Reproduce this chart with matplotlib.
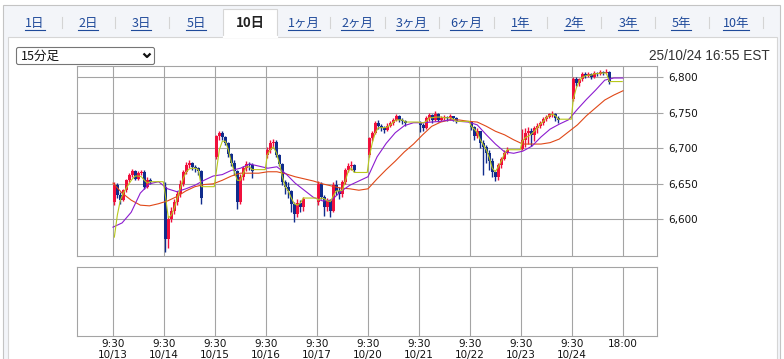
import numpy as np
import matplotlib
matplotlib.use('Agg')
import matplotlib.pyplot as plt
import matplotlib.patches as patches
import matplotlib.lines as lines

W, H = 784, 359

# ---- data -------------------------------------------------------------
days = ['10/13', '10/14', '10/15', '10/16', '10/17',
        '10/20', '10/21', '10/22', '10/23', '10/24']
tabs = ['1日', '2日', '3日', '5日', '10日', '1ヶ月', '2ヶ月',
        '3ヶ月', '6ヶ月', '1年', '2年', '3年', '5年', '10年']
yticks = [6600, 6650, 6700, 6750, 6800]

# 30分ごとのローソク足 (1日13本)
day_open = [6625, 6645, 6688, 6690, 6624, 6690, 6736, 6737, 6699, 6769]
closes = [
    [6649, 6634, 6627, 6641, 6655, 6662, 6668, 6657, 6665, 6667, 6646, 6656, 6653],
    [6572, 6600, 6612, 6624, 6635, 6650, 6667, 6677, 6679, 6674, 6672, 6668, 6630],
    [6717, 6722, 6716, 6708, 6692, 6680, 6668, 6625, 6660, 6672, 6678, 6676, 6668],
    [6698, 6707, 6709, 6690, 6678, 6652, 6645, 6640, 6621, 6608, 6623, 6617, 6628],
    [6650, 6632, 6617, 6626, 6612, 6648, 6640, 6636, 6653, 6669, 6675, 6677, 6670],
    [6714, 6722, 6736, 6731, 6729, 6726, 6732, 6736, 6740, 6745, 6740, 6738, 6736],
    [6733, 6729, 6742, 6747, 6740, 6749, 6740, 6743, 6744, 6742, 6745, 6742, 6738],
    [6730, 6718, 6724, 6708, 6702, 6694, 6682, 6666, 6659, 6676, 6685, 6694, 6698],
    [6712, 6722, 6724, 6719, 6728, 6731, 6736, 6741, 6744, 6748, 6749, 6743, 6740],
    [6798, 6792, 6797, 6805, 6802, 6804, 6800, 6806, 6805, 6807, 6806, 6808, 6793],
]
highs = [
    [6652, 6651, 6638, 6643, 6657, 6665, 6671, 6670, 6668, 6670, 6670, 6659, 6658],
    [6652, 6605, 6618, 6628, 6640, 6655, 6670, 6681, 6683, 6681, 6677, 6674, 6670],
    [6719, 6725, 6724, 6718, 6709, 6694, 6683, 6670, 6664, 6675, 6682, 6681, 6679],
    [6702, 6712, 6713, 6712, 6692, 6680, 6656, 6652, 6642, 6625, 6628, 6627, 6632],
    [6654, 6652, 6634, 6630, 6628, 6652, 6655, 6645, 6656, 6672, 6680, 6682, 6678],
    [6716, 6725, 6739, 6740, 6734, 6732, 6735, 6739, 6743, 6748, 6747, 6742, 6740],
    [6738, 6736, 6745, 6750, 6749, 6752, 6750, 6746, 6747, 6746, 6748, 6746, 6744],
    [6738, 6732, 6728, 6725, 6712, 6705, 6698, 6686, 6670, 6680, 6688, 6697, 6702],
    [6727, 6728, 6730, 6728, 6732, 6735, 6739, 6744, 6747, 6750, 6752, 6750, 6745],
    [6801, 6800, 6799, 6808, 6808, 6807, 6806, 6809, 6808, 6810, 6809, 6811, 6809],
]
lows = [
    [6620, 6630, 6622, 6626, 6639, 6652, 6660, 6655, 6655, 6662, 6643, 6644, 6650],
    [6554, 6560, 6596, 6608, 6620, 6632, 6647, 6664, 6672, 6670, 6666, 6662, 6622],
    [6685, 6712, 6712, 6704, 6688, 6675, 6662, 6614, 6622, 6656, 6668, 6670, 6658],
    [6686, 6694, 6700, 6688, 6675, 6648, 6636, 6630, 6610, 6596, 6603, 6610, 6612],
    [6620, 6628, 6605, 6612, 6603, 6610, 6634, 6628, 6632, 6650, 6666, 6670, 6666],
    [6688, 6710, 6720, 6727, 6724, 6722, 6724, 6730, 6733, 6738, 6737, 6734, 6732],
    [6723, 6724, 6727, 6739, 6736, 6739, 6737, 6739, 6740, 6739, 6740, 6738, 6735],
    [6726, 6712, 6714, 6700, 6662, 6680, 6670, 6660, 6654, 6656, 6672, 6683, 6692],
    [6697, 6702, 6706, 6703, 6710, 6722, 6728, 6733, 6738, 6742, 6744, 6738, 6735],
    [6767, 6788, 6788, 6795, 6799, 6800, 6797, 6799, 6802, 6803, 6803, 6804, 6791],
]

# 短期移動平均 (ローソク足ごと)
ma_short = [
    [6575, 6606, 6627, 6637, 6644, 6651, 6657, 6661, 6661, 6660, 6655, 6651, 6653],
    [6634, 6602, 6606, 6616, 6630, 6644, 6658, 6667, 6671, 6672, 6672, 6670, 6646],
    [6667, 6698, 6710, 6710, 6698, 6681, 6667, 6655, 6655, 6665, 6674, 6674, 6670],
    [6691, 6698, 6702, 6694, 6679, 6660, 6646, 6640, 6630, 6622, 6620, 6623, 6630],
    [6627, 6630, 6629, 6626, 6625, 6633, 6640, 6640, 6641, 6654, 6668, 6672, 6666],
    [6688, 6708, 6722, 6729, 6729, 6729, 6730, 6733, 6737, 6740, 6740, 6740, 6737],
    [6736, 6736, 6738, 6743, 6743, 6744, 6744, 6744, 6743, 6743, 6743, 6741, 6738],
    [6731, 6727, 6722, 6712, 6705, 6698, 6687, 6672, 6667, 6674, 6682, 6692, 6698],
    [6710, 6715, 6717, 6720, 6724, 6729, 6734, 6738, 6743, 6746, 6748, 6746, 6741],
    [6769, 6785, 6795, 6800, 6802, 6803, 6803, 6805, 6805, 6806, 6806, 6806, 6794],
]
# 中期・長期移動平均 (10/13 9:30 から 10/24 18:00 まで等間隔)
ma_mid = [6589, 6595, 6610, 6637, 6650, 6653, 6643, 6639, 6643, 6648,
          6655, 6661, 6663, 6669, 6672, 6678, 6675, 6672, 6674, 6664,
          6651, 6641, 6631, 6626, 6627, 6639, 6648, 6654, 6660, 6688,
          6707, 6722, 6732, 6736, 6736, 6737, 6738, 6740, 6738, 6737,
          6733, 6719, 6706, 6695, 6693, 6696, 6703, 6716, 6727, 6734,
          6740, 6755, 6769, 6782, 6796, 6799, 6799]
ma_long = [6651, 6637, 6627, 6620, 6619, 6622, 6626, 6632, 6640, 6646,
           6649, 6650, 6655, 6661, 6665, 6665, 6665, 6667, 6667, 6664,
           6660, 6657, 6654, 6650, 6647, 6644, 6643, 6641, 6643, 6657,
           6670, 6682, 6695, 6706, 6719, 6731, 6737, 6740, 6740, 6738,
           6737, 6731, 6724, 6719, 6712, 6706, 6706, 6706, 6708, 6713,
           6723, 6733, 6746, 6757, 6768, 6775, 6781]

SLOTS = 34      # 15分足 9:30-18:00 = 34本/日
END = 340       # 10/24 18:00

UP = '#f0103c'
DOWN = '#102c8c'
GRID = '#a4a4a4'
C_SHORT = '#b8c81c'
C_MID = '#8c1cd0'
C_LONG = '#e04818'
LINK = '#1f4a9a'


def box(l, t, r, b):
    '''画素座標 -> figure 座標'''
    return [l / W, 1 - b / H, (r - l) / W, (b - t) / H]


fig = plt.figure(figsize=(W / 100, H / 100), dpi=100)
fig.patch.set_facecolor('white')

# ---- 背景 (タブ・枠) -------------------------------------------------
bg = fig.add_axes([0, 0, 1, 1])
bg.set_xlim(0, W)
bg.set_ylim(H, 0)
bg.axis('off')
bg.add_patch(patches.Rectangle((3.5, 4.5), 777, 360, facecolor='#f3f5f9',
                               edgecolor='#c4c4c4', linewidth=0.8))
bg.add_patch(patches.Rectangle((8.5, 36.5), 769, 330, facecolor='white',
                               edgecolor='#d6d6d6', linewidth=0.8))
bg.add_patch(patches.Rectangle((223.5, 9), 54, 28, facecolor='white',
                               edgecolor='#d6d6d6', linewidth=0.8))
bg.add_line(lines.Line2D([224.2, 276.8], [36.5, 36.5], color='white', linewidth=1.6))

jp = ['Noto Sans CJK JP', 'DejaVu Sans']
tab_x = [35, 88, 141, 196, 250, 304, 357, 412, 466, 521, 574, 628, 681, 736]
renderer = fig.canvas.get_renderer()
for i, name in enumerate(tabs):
    if name == '10日':
        bg.text(tab_x[i], 23, name, ha='center', va='center', fontsize=9.5,
                fontweight='bold', color='#222222', family=jp)
        continue
    t = bg.text(tab_x[i], 23, name, ha='center', va='center', fontsize=9,
                color=LINK, family=jp)
    bb = t.get_window_extent(renderer)
    x0 = bb.x0 / fig.dpi * 100
    x1 = bb.x1 / fig.dpi * 100
    bg.add_line(lines.Line2D([x0, x1], [29.5, 29.5], color=LINK, linewidth=0.8))
for sx in [62, 115, 169, 330, 385, 439, 494, 547, 601, 655, 709, 763]:
    bg.add_line(lines.Line2D([sx, sx], [17, 28], color='#d4d4d4', linewidth=0.8))

# プルダウン
bg.add_patch(patches.FancyBboxPatch((16.5, 47.5), 138, 17,
                                    boxstyle='round,pad=0,rounding_size=2',
                                    facecolor='white', edgecolor='#767676',
                                    linewidth=0.8))
bg.text(21, 56.5, '15分足', ha='left', va='center', fontsize=9,
        color='#111111', family=jp)
bg.add_line(lines.Line2D([143.5, 147, 150.5], [53.5, 57, 53.5], color='#111111',
                         linewidth=1.6, solid_capstyle='butt'))
bg.text(770, 55.5, '25/10/24 16:55 EST', ha='right', va='center', fontsize=9.8,
        color='#333333', family=['Liberation Sans', 'DejaVu Sans'])

# ---- ローソク足チャート ---------------------------------------------
ax = fig.add_axes(box(77, 66, 657, 256))
ax.set_facecolor('white')
ax.set_xlim(-24, 362.7)
ax.set_ylim(6548.4, 6815.9)

day_starts = [SLOTS * d for d in range(len(days))]
for xg in day_starts + [END]:
    ax.axvline(xg, color=GRID, linewidth=0.8, zorder=0)
for yv in yticks:
    ax.axhline(yv, color=GRID, linewidth=0.8, zorder=0)

xs_all, o_all, c_all, h_all, l_all = [], [], [], [], []
sx_all, sy_all = [], []
for d in range(len(days)):
    for k in range(len(closes[d])):
        o = day_open[d] if k == 0 else closes[d][k - 1]
        xs_all.append(day_starts[d] + 2 * k + 0.9)
        o_all.append(o)
        c_all.append(closes[d][k])
        h_all.append(highs[d][k])
        l_all.append(lows[d][k])
        sx_all.append(day_starts[d] + 2 * k + 0.9)
        sy_all.append(ma_short[d][k])
    # 取引のない時間帯は短期線が横ばい
    nxt = day_starts[d] + SLOTS if d < len(days) - 1 else END
    sx_all.append(nxt - 0.5)
    sy_all.append(ma_short[d][-1])

xs_all = np.array(xs_all)
o_all = np.array(o_all)
c_all = np.array(c_all)
colors = np.where(c_all >= o_all, UP, DOWN)
ax.vlines(xs_all, l_all, h_all, colors=colors, linewidth=1.0, zorder=2)
ax.bar(xs_all, np.maximum(np.abs(c_all - o_all), 0.8), bottom=np.minimum(o_all, c_all),
       width=1.85, color=colors, linewidth=0, zorder=3)

ax.plot(np.linspace(0, END, len(ma_long)), ma_long, color=C_LONG, linewidth=0.8, zorder=4)
ax.plot(np.linspace(0, END, len(ma_mid)), ma_mid, color=C_MID, linewidth=0.8, zorder=4)
ax.plot(sx_all, sy_all, color=C_SHORT, linewidth=0.8, zorder=5)

ax.set_xticks([])
ax.yaxis.tick_right()
ax.set_yticks(yticks)
ax.set_yticklabels([f'{v:,}' for v in yticks], fontsize=7.5, color='#111111')
ax.tick_params(axis='y', length=4, width=0.8, color=GRID, pad=4)
for s in ax.spines.values():
    s.set_color(GRID)
    s.set_linewidth(0.8)

# ---- 出来高欄 (空) ---------------------------------------------------
vol = fig.add_axes(box(77, 267, 657, 336))
vol.set_facecolor('white')
vol.set_xlim(-24, 362.7)
vol.set_ylim(0, 1)
for xg in day_starts + [END]:
    vol.axvline(xg, color=GRID, linewidth=0.8, zorder=0)
vol.set_yticks([])
vol.set_xticks(day_starts + [END])
vol.set_xticklabels([f'9:30\n{d}' for d in days] + ['18:00\n'], fontsize=7.5,
                    color='#111111', linespacing=1.15)
vol.tick_params(axis='x', length=0, pad=2)
for s in vol.spines.values():
    s.set_color(GRID)
    s.set_linewidth(0.8)

fig.savefig('out.png', dpi=100)
